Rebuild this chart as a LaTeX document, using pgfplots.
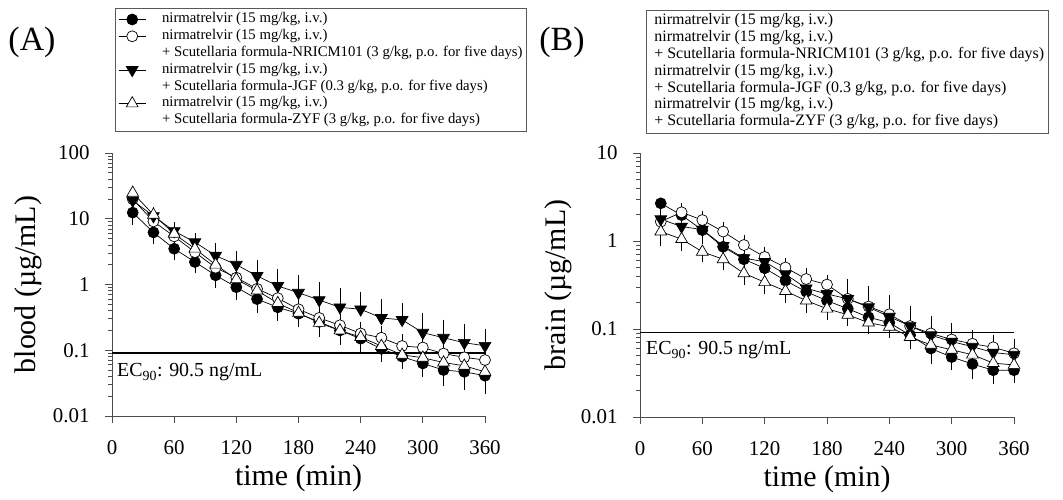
\documentclass[border=0pt]{standalone}
\usepackage{fontspec}
\setmainfont{Liberation Serif}
\usepackage{pgfplots}
\usepackage{pgfplotstable}
\pgfplotsset{compat=1.18}

% t, filled circle, open circle, filled triangle, open triangle (value, SD)
\pgfplotstableread{
t   fc     fce     oc     oce    ft     fte    ot     ote
20  12.4   3.0     19.9   4.0    18.9   3.0    24.8   5.0
40  6.2    1.5     9.1    2.0    11.0   2.0    11.5   2.5
60  3.5    0.8     5.4    1.2    6.5    1.2    5.9    1.2
80  2.2    0.5     3.1    0.7    4.4    0.8    3.5    0.7
100 1.38   0.35    1.8    0.45   2.75   0.95   2.0    0.45
120 0.91   0.25    1.27   0.30   2.0    0.8    1.2    0.3
140 0.60   0.17    0.86   0.22   1.35   0.7    0.81   0.2
160 0.45   0.13    0.62   0.16   0.95   0.54   0.52   0.13
180 0.36   0.10    0.42   0.12   0.75   0.47   0.37   0.10
200 0.27   0.08    0.31   0.09   0.58   0.37   0.26   0.074
220 0.20   0.06    0.24   0.07   0.45   0.31   0.20   0.06
240 0.15   0.045   0.18   0.05   0.42   0.25   0.158  0.05
260 0.105  0.03    0.155  0.045  0.31   0.21   0.116  0.036
280 0.08   0.02    0.116  0.035  0.29   0.16   0.085  0.025
300 0.063  0.018   0.11   0.04   0.185  0.13   0.077  0.022
320 0.05   0.017   0.089  0.03   0.155  0.10   0.065  0.02
340 0.047  0.018   0.078  0.028  0.13   0.086  0.058  0.017
360 0.041  0.0165  0.071  0.025  0.117  0.065  0.047  0.015
}\blood

\pgfplotstableread{
t   fc     fce     oc     oce    ft     fte    ot     ote
20  2.68   0.5     1.66   0.3    1.77   0.4    1.28   0.3
40  1.97   0.35    2.12   0.3    1.46   0.35   1.05   0.2
60  1.33   0.3     1.73   0.25   1.35   0.4    0.755  0.12
80  0.86   0.2     1.28   0.2    0.88   0.25   0.62   0.1
100 0.62   0.13    0.90   0.15   0.64   0.2    0.43   0.08
120 0.49   0.1     0.66   0.12   0.58   0.2    0.34   0.06
140 0.355  0.08    0.50   0.08   0.42   0.15   0.27   0.05
160 0.265  0.06    0.37   0.07   0.29   0.12   0.21   0.04
180 0.21   0.05    0.32   0.05   0.25   0.10   0.17   0.03
200 0.17   0.04    0.22   0.04   0.22   0.11   0.145  0.025
220 0.136  0.03    0.18   0.04   0.177  0.10   0.118  0.02
240 0.118  0.025   0.147  0.03   0.138  0.08   0.106  0.018
260 0.085  0.02    0.108  0.025  0.108  0.056  0.081  0.015
280 0.060  0.015   0.089  0.02   0.085  0.043  0.066  0.012
300 0.048  0.01    0.076  0.018  0.072  0.033  0.058  0.01
320 0.040  0.01    0.068  0.015  0.063  0.024  0.051  0.01
340 0.034  0.008   0.062  0.012  0.054  0.024  0.041  0.008
360 0.034  0.007   0.053  0.01   0.051  0.019  0.039  0.008
}\brain

\pgfplotsset{
  pkser/.style={black, line width=0.7bp, mark options={solid, line width=0.7bp},
    error bars/y explicit,
    error bars/error bar style={black, line width=0.7bp},
    error bars/error mark options={black, line width=0.7bp, mark size=4bp}},
  every axis/.append style={
    scale only axis,
    xmin=0, xmax=360,
    axis x line*=bottom, axis y line*=left,
    axis line style={-, black!70, line width=0.9bp},
    xtick={0,60,...,360},
    tick align=outside,
    major tick length=7bp, minor tick length=4bp,
    tick style={black!70, line width=0.8bp},
    tick label style={font=\fontsize{21}{21}\selectfont},
    xticklabel shift=14bp, yticklabel shift=12bp,
    x label style={at={(axis description cs:0.5,0)}, yshift=-62bp,
      anchor=center, font=\fontsize{30}{30}\selectfont},
    y label style={rotate=0, anchor=center, font=\fontsize{30}{30}\selectfont},
    xlabel={time (min)},
    clip=false,
    legend cell align=left,
    legend style={draw=black!65, line width=0.8bp, fill=white,
      font=\fontsize{14.8}{16}\selectfont, anchor=north west,
      inner sep=3bp, row sep=0.8bp, column sep=15bp,
      nodes={inner sep=1bp, text height=10.5bp, text depth=3.5bp}},
  },
}

\begin{document}
\begin{tikzpicture}
\path[use as bounding box] (0,0) rectangle (1063bp,500bp);

\begin{axis}[at={(112bp,84bp)}, anchor=south west,
  width=373bp, height=263bp,
  ymode=log, ymin=0.01, ymax=100,
  ytick={0.01,0.1,1,10,100}, yticklabels={0.01,0.1,1,10,100},
  xticklabels={0,60,120,180,240,300,360},
  ylabel={blood (µg/mL)},
  y label style={at={(axis description cs:-0.2252,0.5)}},
  legend image code/.code={\draw[mark repeat=2, mark phase=2, line width=0.7bp]
      plot coordinates {(0bp,0bp) (13.5bp,0bp) (27bp,0bp)};},
  legend style={at={(rel axis cs:0.008,1.551)}}]
\addplot[black, line width=1.3bp, forget plot] coordinates {(0,0.0905) (360,0.0905)};
\addplot[pkser, mark=*, mark size=5.5bp, mark options={fill=black}, error bars/y dir=minus]
  table[x=t, y=fc, y error=fce] {\blood};
\addplot[pkser, mark=*, mark size=5.5bp, mark options={fill=white}, error bars/y dir=plus]
  table[x=t, y=oc, y error=oce] {\blood};
\addlegendimage{empty legend}
\addplot[pkser, mark=triangle*, mark size=6.8bp, mark options={fill=black, rotate=180}, error bars/y dir=plus]
  table[x=t, y=ft, y error=fte] {\blood};
\addlegendimage{empty legend}
\addplot[pkser, mark=triangle*, mark size=6.8bp, mark options={fill=white}, error bars/y dir=minus]
  table[x=t, y=ot, y error=ote] {\blood};
\addlegendimage{empty legend}
\legend{{nirmatrelvir (15 mg/kg, i.v.)},
  {nirmatrelvir (15 mg/kg, i.v.)},
  {+ Scutellaria formula-NRICM101 (3 g/kg, p.o. for five days)},
  {nirmatrelvir (15 mg/kg, i.v.)},
  {+ Scutellaria formula-JGF (0.3 g/kg, p.o. for five days)},
  {nirmatrelvir (15 mg/kg, i.v.)},
  {+ Scutellaria formula-ZYF (3 g/kg, p.o. for five days)}}
\node[anchor=base west, font=\fontsize{20}{20}\selectfont, inner sep=0pt]
  at (axis cs:4.8,0.0393) {EC\textsubscript{90}: 90.5 ng/mL};
\end{axis}

\begin{axis}[at={(640bp,83bp)}, anchor=south west,
  width=374bp, height=264bp,
  ymode=log, ymin=0.01, ymax=10,
  ytick={0.01,0.1,1,10}, yticklabels={0.01,0.1,1,10},
  xticklabels={0,60,120,180,240,300,360},
  ylabel={brain (µg/mL)},
  y label style={at={(axis description cs:-0.2193,0.5)}},
  legend style={at={(rel axis cs:0.016,1.542)}, column sep=4bp,
    font=\fontsize{16}{17}\selectfont}]
\addplot[black, line width=1.3bp, forget plot] coordinates {(0,0.0905) (360,0.0905)};
\addplot[pkser, forget plot, mark=*, mark size=5.5bp, mark options={fill=black}, error bars/y dir=minus]
  table[x=t, y=fc, y error=fce] {\brain};
\addplot[pkser, forget plot, mark=*, mark size=5.5bp, mark options={fill=white}, error bars/y dir=plus]
  table[x=t, y=oc, y error=oce] {\brain};
\addplot[pkser, forget plot, mark=triangle*, mark size=6.8bp, mark options={fill=black, rotate=180}, error bars/y dir=plus]
  table[x=t, y=ft, y error=fte] {\brain};
\addplot[pkser, forget plot, mark=triangle*, mark size=6.8bp, mark options={fill=white}, error bars/y dir=minus]
  table[x=t, y=ot, y error=ote] {\brain};
\addlegendimage{empty legend}
\addlegendimage{empty legend}
\addlegendimage{empty legend}
\addlegendimage{empty legend}
\addlegendimage{empty legend}
\addlegendimage{empty legend}
\addlegendimage{empty legend}
\legend{{nirmatrelvir (15 mg/kg, i.v.)},
  {nirmatrelvir (15 mg/kg, i.v.)},
  {+ Scutellaria formula-NRICM101 (3 g/kg, p.o. for five days)\hspace{9bp}},
  {nirmatrelvir (15 mg/kg, i.v.)},
  {+ Scutellaria formula-JGF (0.3 g/kg, p.o. for five days)},
  {nirmatrelvir (15 mg/kg, i.v.)},
  {+ Scutellaria formula-ZYF (3 g/kg, p.o. for five days)}}
\node[anchor=base west, font=\fontsize{20}{20}\selectfont, inner sep=0pt]
  at (axis cs:5.8,0.0507) {EC\textsubscript{90}: 90.5 ng/mL};
\end{axis}

\node[font=\fontsize{34}{34}\selectfont] at (32bp,458bp) {(A)};
\node[font=\fontsize{34}{34}\selectfont] at (562bp,458bp) {(B)};
\end{tikzpicture}
\end{document}
